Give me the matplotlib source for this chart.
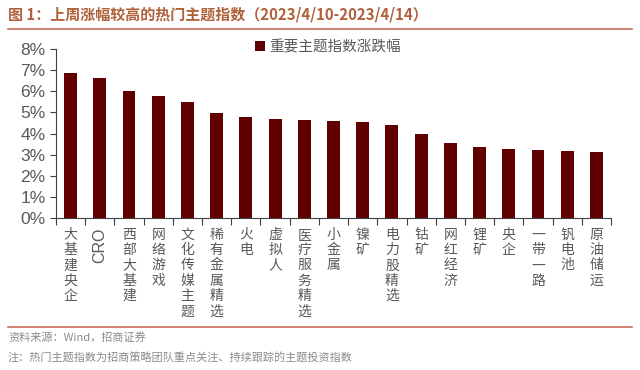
import matplotlib
matplotlib.use("Agg")
import matplotlib.pyplot as plt
from matplotlib.ticker import FuncFormatter
from matplotlib.lines import Line2D

plt.rcParams['font.family'] = ['Noto Sans CJK SC', 'DejaVu Sans']

# data
themes = ['大基建央企', 'CRO', '西部大基建', '网络游戏', '文化传媒主题', '稀有金属精选',
          '火电', '虚拟人', '医疗服务精选', '小金属', '镍矿', '电力股精选', '钴矿',
          '网红经济', '锂矿', '央企', '一带一路', '钒电池', '原油储运']
change_pct = [6.85, 6.64, 6.03, 5.76, 5.48, 4.99, 4.80, 4.71, 4.63, 4.60, 4.53,
              4.41, 3.97, 3.54, 3.34, 3.26, 3.23, 3.15, 3.12]
series_name = '重要主题指数涨跌幅'
title = '图 1：上周涨幅较高的热门主题指数（2023/4/10-2023/4/14）'
source = '资料来源：Wind，招商证券'
note = '注：热门主题指数为招商策略团队重点关注、持续跟踪的主题投资指数'

bar_color = '#600000'
line_color = '#C8705A'
grey = '#595959'

fig = plt.figure(figsize=(6.4, 3.7), dpi=100)
ax = fig.add_axes([56/640, 1-218/370, (611-56)/640, (218-49)/370])

x = list(range(len(themes)))
vals = [v/100 for v in change_pct]
ax.bar(x, vals, width=0.44, color=bar_color, label=series_name)

ax.set_xlim(-0.5, len(themes)-0.5)
ax.set_ylim(0, 0.08)
ax.set_yticks([i/100 for i in range(9)])
ax.yaxis.set_major_formatter(FuncFormatter(lambda v, p: '%d%%' % round(v*100)))
for lab in ax.get_yticklabels():
    lab.set_family(['Liberation Sans', 'DejaVu Sans'])
ax.tick_params(axis='y', labelsize=12.5, labelcolor=grey, direction='out', length=4, color='#404040')

# category boundaries as ticks
ax.set_xticks([i-0.5 for i in range(len(themes)+1)], minor=False)
ax.set_xticklabels([])
ax.tick_params(axis='x', which='major', direction='out', length=5, color='#404040')
ax.set_xticks(x, minor=True)
labels = []
for t in themes:
    if t.isascii():
        labels.append(t)
    else:
        labels.append('\n'.join(t))
ax.set_xticklabels(labels, minor=True)
ax.tick_params(axis='x', which='minor', length=0, pad=7, labelsize=10, labelcolor=grey)
for lab, t in zip(ax.get_xticklabels(minor=True), themes):
    lab.set_verticalalignment('top')
    lab.set_linespacing(1.12)
    if t.isascii():
        lab.set_rotation(90)
        lab.set_family(['Liberation Sans', 'DejaVu Sans'])
        lab.set_fontsize(11.5)

for s in ['top', 'right']:
    ax.spines[s].set_visible(False)
ax.spines['left'].set_color('#404040')
ax.spines['bottom'].set_color('#404040')

ax.legend(loc='upper center', bbox_to_anchor=(0.49, 1.13), frameon=False, fontsize=10.5,
          handlelength=0.7, handleheight=0.7, handletextpad=0.3, labelcolor=grey)

fig.text(8/640, 1-15/370, title, fontsize=10.8, fontweight='bold', color='#B0603A', va='center')
fig.add_artist(Line2D([8/640, 632/640], [1-29/370, 1-29/370], color=line_color, lw=1.2))
fig.add_artist(Line2D([8/640, 632/640], [1-327/370, 1-327/370], color=line_color, lw=1.2))
fig.text(8/640, 1-337/370, source, fontsize=8, color='#8a8a8a', va='center')
fig.text(8/640, 1-358/370, note, fontsize=8, color='#8a8a8a', va='center')

fig.savefig('out.png', dpi=100)
